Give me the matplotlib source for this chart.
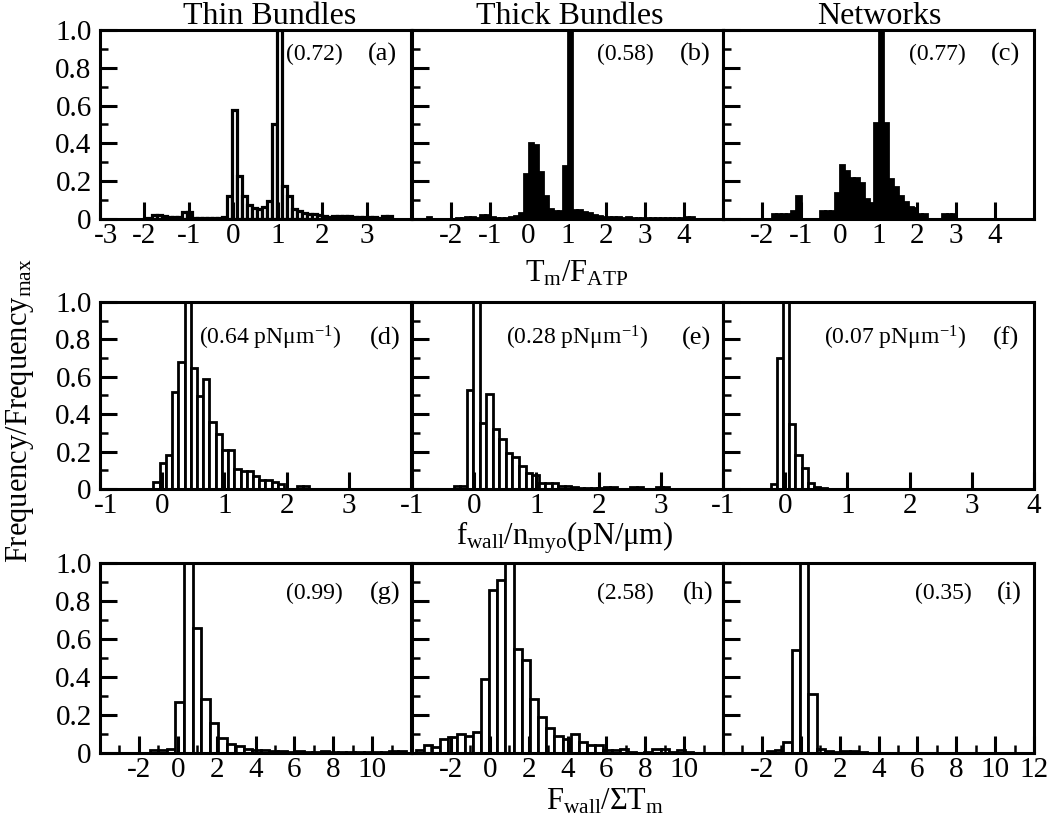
import matplotlib
matplotlib.use('Agg')
import matplotlib.pyplot as plt
import matplotlib.transforms as mtransforms
import numpy as np
from matplotlib.ticker import MultipleLocator

plt.rcParams['font.family'] = ['Liberation Serif', 'DejaVu Serif']
plt.rcParams['mathtext.fontset'] = 'custom'
plt.rcParams['mathtext.rm'] = 'Liberation Serif'
plt.rcParams['mathtext.it'] = 'Liberation Serif:italic'
plt.rcParams['mathtext.bf'] = 'Liberation Serif:bold'

# ---- histogram data (normalised frequency) ----
# each panel: first bin edge, bin width, bar heights

# (a) Thin bundles, Tm/FATP
a_start, a_width = -2.05, 0.1125
a_heights = [0, 0.005, 0.02, 0.02, 0.015, 0.012, 0.012, 0.012, 0.035, 0.035,
             0.005, 0.004, 0.004, 0.004, 0.004, 0.004, 0.008, 0.12, 0.575, 0.23,
             0.12, 0.075, 0.06, 0.055, 0.065, 0.095, 0.505, 1.0, 0.175, 0.12,
             0.055, 0.04, 0.03, 0.028, 0.025, 0.02, 0.015, 0.012, 0.018, 0.018,
             0.018, 0.018, 0.012, 0.012, 0.012, 0.012, 0.012, 0.005, 0.015, 0.015]

# (b) Thick bundles, Tm/FATP
b_start, b_width = -3.0, 0.125
b_heights = [0, 0, 0, 0.01, 0, 0, 0, 0, 0, 0.005,
             0.005, 0.01, 0.01, 0.005, 0.02, 0.02, 0.01, 0.003, 0.003, 0.003,
             0.01, 0.015, 0.03, 0.24, 0.40, 0.39, 0.25, 0.12, 0.055, 0.04,
             0.04, 0.28, 1.0, 0.045, 0.045, 0.035, 0.03, 0.02, 0.015, 0.01,
             0.01, 0.01, 0.008, 0.005, 0.01, 0.003, 0.003, 0.003, 0.003, 0.003,
             0.003, 0.003, 0.003, 0.003, 0.003, 0.003, 0.01, 0.01]

# (c) Networks, Tm/FATP
c_start, c_width = -1.75, 0.125
c_heights = [0.026, 0.026, 0.026, 0.026, 0.044, 0.123, 0, 0, 0, 0,
             0.044, 0.044, 0.044, 0.136, 0.286, 0.255, 0.215, 0.215, 0.192, 0.106,
             0.083, 0.506, 1.0, 0.506, 0.212, 0.17, 0.123, 0.09, 0.065, 0.06,
             0.026, 0.026, 0, 0, 0, 0.026, 0.026, 0.026]

# (d) Thin bundles, fwall/nmyo
d_start, d_width = -0.14, 0.1
d_heights = [0.035, 0.14, 0.18, 0.52, 0.68, 1.0, 0.647, 0.495, 0.59, 0.36,
             0.295, 0.21, 0.21, 0.107, 0.095, 0.095, 0.068, 0.05, 0.05, 0.035,
             0.025, 0, 0, 0.018, 0.018]

# (e) Thick bundles, fwall/nmyo
e_start, e_width = -0.33, 0.105
e_heights = [0.015, 0.015, 0.53, 1.0, 0.355, 0.51, 0.32, 0.265, 0.19, 0.17,
             0.125, 0.085, 0.077, 0.03, 0.03, 0.03, 0.015, 0.015, 0.01, 0.005,
             0.005, 0.003, 0.003, 0.01, 0.01, 0, 0, 0.01, 0.01, 0,
             0, 0.01, 0.01]

# (f) Networks, fwall/nmyo
f_start, f_width = -0.235, 0.1
f_heights = [0.028, 0.70, 1.0, 0.346, 0.18, 0.11, 0.03, 0.01, 0.005]

# (g) Thin bundles, Fwall/sum Tm
g_start, g_width = -1.44, 0.44
g_heights = [0.018, 0.018, 0.02, 0.27, 1.0, 0.66, 0.283, 0.16, 0.08, 0.045,
             0.035, 0.02, 0.015, 0.015, 0.01, 0.008, 0.005, 0.008, 0.005, 0.005,
             0.008, 0.005, 0.005, 0.005, 0.005, 0.003, 0.003, 0.003, 0.012, 0.012]

# (h) Thick bundles, Fwall/sum Tm
h_start, h_width = -3.81, 0.42
h_heights = [0.015, 0.042, 0.03, 0.075, 0.085, 0.1, 0.09, 0.11, 0.39, 0.86,
             0.913, 1.0, 0.55, 0.49, 0.284, 0.188, 0.13, 0.09, 0.075, 0.1,
             0.06, 0.04, 0.04, 0.015, 0.015, 0.02, 0.005, 0.0, 0.005, 0.02,
             0.02, 0.005, 0.015, 0.005]

# (i) Networks, Fwall/sum Tm
i_start, i_width = -1.76, 0.43
i_heights = [0.008, 0.016, 0.056, 0.54, 1.0, 0.31, 0.02, 0.01, 0.005, 0.01,
             0.01, 0.005]

titles = ['Thin Bundles', 'Thick Bundles', 'Networks']
means = ['(0.72)', '(0.58)', '(0.77)',
         r'$\mathregular{(0.64\ pNμm^{-1})}$', r'$\mathregular{(0.28\ pNμm^{-1})}$',
         r'$\mathregular{(0.07\ pNμm^{-1})}$',
         '(0.99)', '(2.58)', '(0.35)']
letters = ['(a)', '(b)', '(c)', '(d)', '(e)', '(f)', '(g)', '(h)', '(i)']

row_xlim = [(-3, 4), (-3, 5), (-3, 5), (-1, 4), (-1, 4), (-1, 4), (-4, 12), (-4, 12), (-4, 12)]
xticks = [[-3, -2, -1, 0, 1, 2, 3], [-2, -1, 0, 1, 2, 3, 4], [-2, -1, 0, 1, 2, 3, 4],
          [-1, 0, 1, 2, 3], [-1, 0, 1, 2, 3], [-1, 0, 1, 2, 3, 4],
          [-2, 0, 2, 4, 6, 8, 10], [-2, 0, 2, 4, 6, 8, 10], [-2, 0, 2, 4, 6, 8, 10, 12]]

panels = [(a_start, a_width, a_heights), (b_start, b_width, b_heights),
          (c_start, c_width, c_heights), (d_start, d_width, d_heights),
          (e_start, e_width, e_heights), (f_start, f_width, f_heights),
          (g_start, g_width, g_heights), (h_start, h_width, h_heights),
          (i_start, i_width, i_heights)]

# ---- layout (pixels) ----
W, H = 1050, 826
fig = plt.figure(figsize=(W / 100, H / 100), dpi=100)

col_left = [100, 412, 723]
col_w = 311
row_top = [30, 302, 563]
row_h = [189, 187, 190]
mean_x = [0.69, 0.685, 0.69, 0.547, 0.53, 0.553, 0.688, 0.685, 0.71]
letter_x = [0.907, 0.91, 0.907, 0.916, 0.915, 0.91, 0.916, 0.92, 0.92]
text_y = [0.868, 0.807, 0.842]

for k, (start, width, heights) in enumerate(panels):
    r, c = divmod(k, 3)
    ax = fig.add_axes([col_left[c] / W, 1 - (row_top[r] + row_h[r]) / H,
                       col_w / W, row_h[r] / H])
    edges = start + width * np.arange(len(heights))
    fc = 'black' if k in (1, 2) else 'white'
    lw = 2.3 if k == 0 else 2.0
    ax.bar(edges, heights, width=width, align='edge', facecolor=fc,
           edgecolor='black', linewidth=lw)

    ax.set_xlim(*row_xlim[k])
    ax.set_ylim(0, 1.0)
    ax.set_xticks(xticks[k])
    ax.set_xticklabels([str(t) for t in xticks[k]])
    if r == 2:
        ax.set_xticks([-3, -1, 1, 3, 5, 7, 9, 11], minor=True)
    ax.set_yticks([0, 0.2, 0.4, 0.6, 0.8, 1.0])
    ax.yaxis.set_minor_locator(MultipleLocator(0.1))
    if c == 0:
        ax.set_yticklabels(['0', '0.2', '0.4', '0.6', '0.8', '1.0'])
    else:
        ax.set_yticklabels([])

    ax.tick_params(which='major', direction='in', length=12, width=2.2,
                   labelsize=21, top=False, right=False)
    ax.tick_params(which='minor', direction='in', length=6, width=1.8,
                   top=False, right=False)
    ax.tick_params(axis='x', pad=3)
    ax.tick_params(axis='y', pad=6)
    for s in ax.spines.values():
        s.set_linewidth(2.2)

    # first x label sitting on the left corner is nudged right, as in the original
    if c == 0 and r < 2:
        lab = ax.get_xticklabels()[0]
        lab.set_transform(lab.get_transform() +
                          mtransforms.ScaledTranslation(6 / 100, 0, fig.dpi_scale_trans))

    ax.text(mean_x[k], text_y[r], means[k], transform=ax.transAxes,
            ha='center', va='center', fontsize=17)
    ax.text(letter_x[k], text_y[r], letters[k], transform=ax.transAxes,
            ha='center', va='center', fontsize=19)

# column titles
for cx, t in zip([270, 570, 879], titles):
    fig.text(cx / W, 1 - 24 / H, t, ha='center', va='baseline', fontsize=23)

# axis labels
fig.text(577 / W, 1 - 282 / H, r'$\mathregular{T_m/F_{ATP}}$',
         ha='center', va='baseline', fontsize=22)
fig.text(565 / W, 1 - 545 / H, r'$\mathregular{f_{wall}/n_{myo}(pN/μm)}$',
         ha='center', va='baseline', fontsize=22)
fig.text(605 / W, 1 - 810 / H, r'$\mathregular{F_{wall}/ΣT_m}$',
         ha='center', va='baseline', fontsize=22)
fig.text(20 / W, 1 - 411 / H, r'$\mathregular{Frequency/Frequency_{max}}$',
         ha='center', va='center', rotation=90, fontsize=22)

fig.savefig('out.png', dpi=100)
